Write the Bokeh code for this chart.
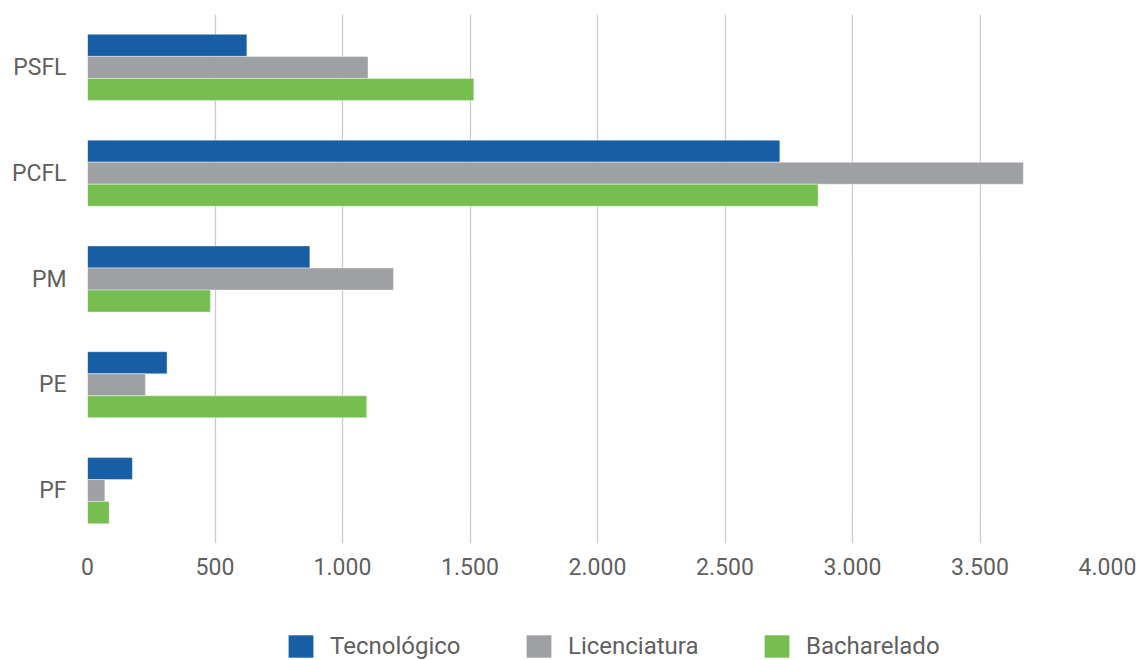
from bokeh.plotting import figure
from bokeh.layouts import column
from bokeh.models import (ColumnDataSource, Legend, LegendItem, CustomJSTickFormatter,
                          FixedTicker, FactorRange, Range1d)
from bokeh.transform import dodge
from bokeh.embed import file_html
from bokeh.resources import INLINE

categories = ["PSFL", "PCFL", "PM", "PE", "PF"]
tecnologico = [625, 2715, 872, 312, 176]
licenciatura = [1100, 3670, 1200, 227, 68]
bacharelado = [1515, 2865, 482, 1095, 85]
series_names = ["Tecnológico", "Licenciatura", "Bacharelado"]
series_colors = ["#175EA4", "#9EA0A3", "#76BE4F"]
x_ticks = [0, 500, 1000, 1500, 2000, 2500, 3000, 3500, 4000]

FONT = "Roboto"
TEXT_COLOR = "#5f5f5f"
W = 1136
H_MAIN = 600
H_LEG = 60

source = ColumnDataSource(dict(cat=categories, t=tecnologico, l=licenciatura, b=bacharelado))
cols = ["t", "l", "b"]

p = figure(width=W, height=H_MAIN, output_backend="svg", toolbar_location=None,
           x_range=Range1d(0, 4000), y_range=FactorRange(*list(reversed(categories))),
           min_border_left=87, min_border_right=29, min_border_top=14, min_border_bottom=57)
p.outline_line_color = None
p.background_fill_color = "white"
p.border_fill_color = "white"

bh = 0.2083
for col, off, color in zip(cols, [bh, 0, -bh], series_colors):
    p.hbar(y=dodge("cat", off, range=p.y_range), right=col, left=0, height=bh,
           source=source, fill_color=color, line_color="white", line_alpha=0.4, line_width=1)

p.xgrid.ticker = FixedTicker(ticks=x_ticks)
p.xgrid.grid_line_color = "#cbcbcb"
p.xgrid.grid_line_width = 1.3
p.ygrid.grid_line_color = None

p.xaxis.ticker = FixedTicker(ticks=x_ticks)
p.xaxis.formatter = CustomJSTickFormatter(code=r"""
return Math.round(tick).toString().replace(/\B(?=(\d{3})+(?!\d))/g, '.');
""")
for ax in (p.xaxis, p.yaxis):
    ax.axis_line_color = None
    ax.major_tick_line_color = None
    ax.minor_tick_line_color = None
    ax.major_tick_out = 0
    ax.major_tick_in = 0
    ax.minor_tick_out = 0
    ax.major_label_text_font = FONT
    ax.major_label_text_font_size = "23px"
    ax.major_label_text_color = TEXT_COLOR
p.xaxis.major_label_standoff = 14
p.yaxis.major_label_standoff = 21

# legend strip below the chart (its frame is aligned with the chart's frame)
pl = figure(width=W, height=H_LEG, output_backend="svg", toolbar_location=None,
            x_range=Range1d(-10, -5), y_range=FactorRange(*categories),
            x_axis_type=None, y_axis_type=None, min_border=0)
pl.outline_line_color = None
pl.background_fill_color = "white"
pl.border_fill_color = "white"
leg_renderers = []
for col, color in zip(cols, series_colors):
    r = pl.hbar(y="cat", right=col, left=0, height=0.2, source=source,
                fill_color=color, line_color=None, visible=False)
    leg_renderers.append(r)
items = [LegendItem(label=n, renderers=[r]) for n, r in zip(series_names, leg_renderers)]
legend = Legend(items=items, orientation="horizontal", location=(198, 0),
                spacing=62, glyph_width=31, glyph_height=28, label_standoff=14,
                label_text_font=FONT, label_text_font_size="24px", label_text_color=TEXT_COLOR,
                label_width=131, label_height=28, padding=0, margin=0,
                border_line_color=None, background_fill_alpha=0, click_policy="none")
pl.add_layout(legend, "center")

layout = column(p, pl, spacing=0)
html = file_html(layout, INLINE)
html = html.replace("</head>", "<style>html,body{overflow:hidden;margin:0}</style></head>")
open("out.html", "w").write(html)
